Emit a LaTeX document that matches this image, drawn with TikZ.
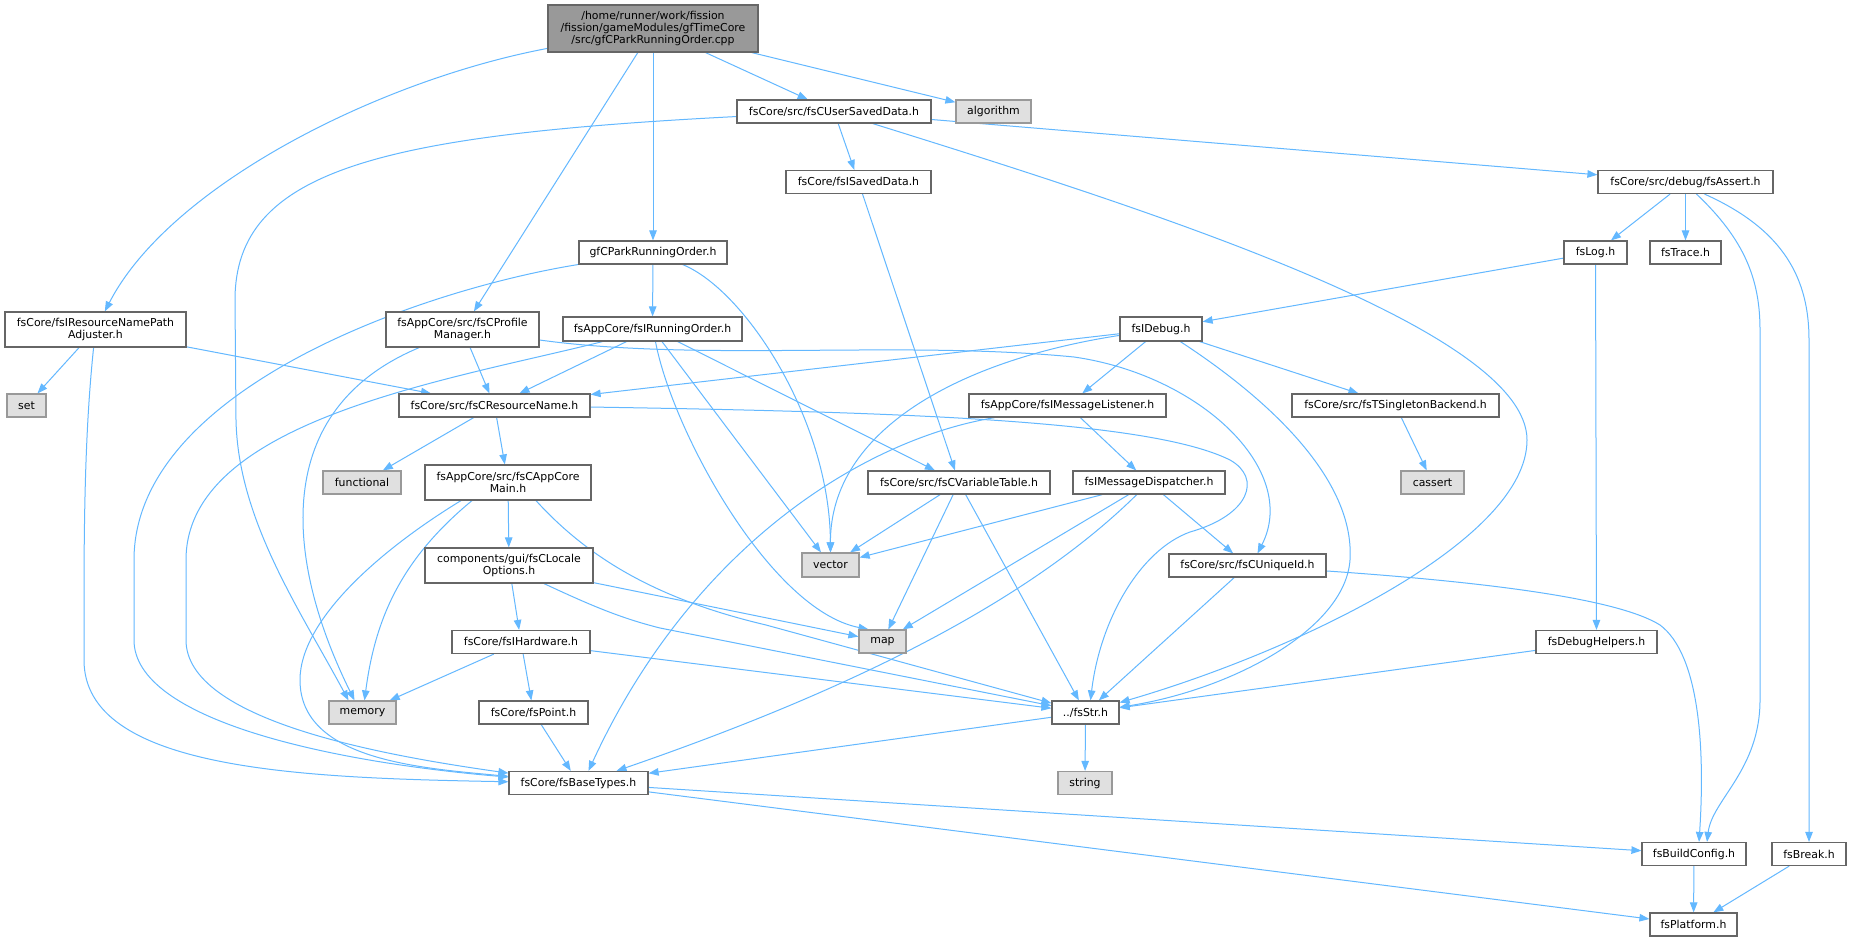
\documentclass[tikz,border=0pt]{standalone}
\usepackage{fontspec}
\setmainfont{DejaVu Sans}
\usetikzlibrary{arrows.meta,backgrounds}
\definecolor{edgec}{HTML}{63B8FF}
\definecolor{bord}{HTML}{666666}
\definecolor{gbord}{HTML}{999999}
\definecolor{gfill}{HTML}{E0E0E0}
\definecolor{rootfill}{HTML}{999999}
\begin{document}
\begin{tikzpicture}[x=1pt,y=-1pt,
 box/.style={draw=bord, line width=1.2pt, fill=white, inner sep=0pt, minimum height=23pt, align=center, font=\fontsize{10.9}{12.2}\selectfont},
 sys/.style={box, draw=gbord, fill=gfill},
 edge/.style={draw=edgec, line width=1pt, -{Triangle[length=10pt,width=7.5pt]}}]
\useasboundingbox (0,0) rectangle (1851,941);

\node[box, fill=rootfill, minimum width=210pt, minimum height=47pt] (root) at (653,28.5) {/home/runner/work/fission\\/fission/gameModules/gfTimeCore\\/src/gfCParkRunningOrder.cpp};
\node[box, minimum width=194pt] (usd) at (834,111.5) {fsCore/src/fsCUserSavedData.h};
\node[sys, minimum width=75pt] (alg) at (993.5,111.5) {algorithm};
\node[box, minimum width=145pt] (isd) at (858.5,182) {fsCore/fsISavedData.h};
\node[box, minimum width=148pt] (gfh) at (653,252.5) {gfCParkRunningOrder.h};
\node[box, minimum width=175pt] (assert) at (1685.5,182) {fsCore/src/debug/fsAssert.h};
\node[box, minimum width=63pt] (log) at (1595.5,252.5) {fsLog.h};
\node[box, minimum width=71pt] (trace) at (1685.5,252.5) {fsTrace.h};
\node[box, minimum width=181pt, minimum height=35pt] (rnpa) at (95.5,329.5) {fsCore/fsIResourceNamePath\\Adjuster.h};
\node[sys, minimum width=39pt] (set) at (26.5,405.5) {set};
\node[box, minimum width=153pt, minimum height=35pt] (prof) at (462.5,329.5) {fsAppCore/src/fsCProfile\\Manager.h};
\node[box, minimum width=179pt, minimum height=24pt] (iro) at (652.5,329) {fsAppCore/fsIRunningOrder.h};
\node[box, minimum width=191pt] (crn) at (494.5,405.5) {fsCore/src/fsCResourceName.h};
\node[sys, minimum width=78pt] (func) at (362,482.5) {functional};
\node[box, minimum width=166pt, minimum height=35pt] (acm) at (508,482.5) {fsAppCore/src/fsCAppCore\\Main.h};
\node[box, minimum width=168pt, minimum height=35pt] (clo) at (509,565.5) {components/gui/fsCLocale\\Options.h};
\node[box, minimum width=82pt, minimum height=24pt] (idebug) at (1161,329) {fsIDebug.h};
\node[box, minimum width=197pt] (iml) at (1067.5,405.5) {fsAppCore/fsIMessageListener.h};
\node[box, minimum width=182pt] (cvt) at (959,482.5) {fsCore/src/fsCVariableTable.h};
\node[box, minimum width=152pt] (imd) at (1149,482.5) {fsIMessageDispatcher.h};
\node[sys, minimum width=57pt, minimum height=24pt] (vector) at (830.5,565) {vector};
\node[box, minimum width=157pt] (uid) at (1247.5,565.5) {fsCore/src/fsCUniqueId.h};
\node[box, minimum width=207pt] (tsb) at (1395.5,405.5) {fsCore/src/fsTSingletonBackend.h};
\node[sys, minimum width=63pt] (cassert) at (1432.5,482.5) {cassert};
\node[box, minimum width=138pt] (ihw) at (521,642) {fsCore/fsIHardware.h};
\node[sys, minimum width=67pt] (memory) at (362.5,712.5) {memory};
\node[box, minimum width=109pt] (point) at (533.5,712.5) {fsCore/fsPoint.h};
\node[box, minimum width=139pt] (base) at (578.5,783) {fsCore/fsBaseTypes.h};
\node[sys, minimum width=47pt] (map) at (882.5,641.5) {map};
\node[box, minimum width=67pt] (str) at (1085.5,712.5) {../fsStr.h};
\node[sys, minimum width=54pt] (string) at (1085,783) {string};
\node[box, minimum width=121pt] (dbgh) at (1596.5,642) {fsDebugHelpers.h};
\node[box, minimum width=104pt] (bcfg) at (1694,854) {fsBuildConfig.h};
\node[box, minimum width=74pt] (brk) at (1809,854) {fsBreak.h};
\node[box, minimum width=87pt] (plat) at (1693.5,924.5) {fsPlatform.h};

\begin{scope}[on background layer]
\fill[white] (0,0) rectangle (1851,941);
\draw[edge] (root) .. controls (380,80) and (170,185) .. (rnpa);
\draw[edge] (root) -- (prof);
\draw[edge] (root) -- (gfh);
\draw[edge] (root) -- (usd);
\draw[edge] (root) -- (alg);
\draw[edge] (usd) .. controls (380,135) and (235,170) .. (235,300) -- (236,420) .. controls (238,520) and (300,610) .. ([xshift=-14pt]memory.north);
\draw[edge] (usd) -- (isd);
\draw[edge] (usd) -- (assert);
\draw[edge] (usd) .. controls (1150,210) and (1527,330) .. (1527,440) .. controls (1527,540) and (1300,650) .. (str);
\draw[edge] (isd) -- (cvt);
\draw[edge] (gfh) -- (iro);
\draw[edge] (gfh) .. controls (745,290) and (830,420) .. (vector);
\draw[edge] (gfh) .. controls (420,290) and (134,390) .. (134,560) -- (134,640) .. controls (134,720) and (330,762) .. (base);
\draw[edge] (iro) -- (crn);
\draw[edge] (iro) -- (cvt);
\draw[edge] (iro) -- (vector);
\draw[edge] ([xshift=3pt]iro.south) .. controls (672,430) and (770,610) .. ([xshift=-14pt]map.north);
\draw[edge] (iro) .. controls (450,380) and (186,420) .. (186,560) -- (186,640) .. controls (186,720) and (380,755) .. (base);
\draw[edge] (prof) -- (crn);
\draw[edge] (prof) .. controls (270,410) and (285,560) .. ([xshift=-8pt]memory.north);
\draw[edge] (prof) .. controls (700,362) and (900,340) .. (1074,357) .. controls (1200,375) and (1300,470) .. ([xshift=10pt]uid.north);
\draw[edge] (rnpa) -- (set);
\draw[edge] (rnpa) -- (crn);
\draw[edge] (rnpa) .. controls (86,420) and (84,500) .. (84,600) -- (84,660) .. controls (84,770) and (300,778) .. (base);
\draw[edge] (crn) -- (func);
\draw[edge] (crn) -- (acm);
\draw[edge] (crn) .. controls (900,412) and (1150,420) .. (1230,460) .. controls (1262,478) and (1250,515) .. (1190,532) .. controls (1140,550) and (1100,620) .. ([xshift=5pt]str.north);
\draw[edge] (acm) -- (clo);
\draw[edge] ([xshift=-36pt]acm.south) .. controls (400,560) and (375,620) .. ([xshift=2pt]memory.north);
\draw[edge] ([xshift=-47pt]acm.south) .. controls (380,550) and (300,620) .. (300,680) .. controls (300,760) and (420,768) .. (base);
\draw[edge] ([xshift=28pt]acm.south) .. controls (590,560) and (660,600) .. (766,625) -- (str);
\draw[edge] (clo) -- (ihw);
\draw[edge] (clo) -- (map);
\draw[edge] ([xshift=35pt]clo.south) .. controls (590,605) and (620,618) .. (660,628) -- (str);
\draw[edge] (ihw) -- (memory);
\draw[edge] (ihw) -- (point);
\draw[edge] (ihw) -- (str);
\draw[edge] (point) -- (base);
\draw[edge] (idebug) -- (crn);
\draw[edge] (idebug) .. controls (960,360) and (830,430) .. (vector);
\draw[edge] (idebug) -- (iml);
\draw[edge] (idebug) -- (tsb);
\draw[edge] (idebug) .. controls (1270,400) and (1355,480) .. (1350,560) .. controls (1345,630) and (1230,690) .. (str);
\draw[edge] (iml) -- (imd);
\draw[edge] (iml) .. controls (860,440) and (690,550) .. ([xshift=10pt]base.north);
\draw[edge] (cvt) -- (vector);
\draw[edge] (cvt) -- (map);
\draw[edge] (cvt) -- (str);
\draw[edge] (imd) -- (vector);
\draw[edge] (imd) -- (map);
\draw[edge] (imd) .. controls (1040,590) and (880,680) .. ([xshift=38pt]base.north);
\draw[edge] (imd) -- (uid);
\draw[edge] (uid) -- (str);
\draw[edge] (uid) .. controls (1500,583) and (1620,600) .. (1660,625) .. controls (1700,655) and (1705,750) .. ([xshift=5pt]bcfg.north);
\draw[edge] (tsb) -- (cassert);
\draw[edge] (assert) -- (log);
\draw[edge] (assert) -- (trace);
\draw[edge] ([xshift=11pt]assert.south) .. controls (1745,240) and (1760,280) .. (1760,330) -- (1760,700) .. controls (1760,770) and (1712,800) .. ([xshift=13pt]bcfg.north);
\draw[edge] ([xshift=19pt]assert.south) .. controls (1785,230) and (1809,280) .. (1809,340) -- (brk);
\draw[edge] (log) -- (idebug);
\draw[edge] (log) -- (dbgh);
\draw[edge] (dbgh) -- (str);
\draw[edge] (str) -- (string);
\draw[edge] (str) -- (base);
\draw[edge] (base) -- (bcfg);
\draw[edge] (base) -- (plat);
\draw[edge] (bcfg) -- (plat);
\draw[edge] (brk) -- (plat);
\end{scope}
\end{tikzpicture}
\end{document}
